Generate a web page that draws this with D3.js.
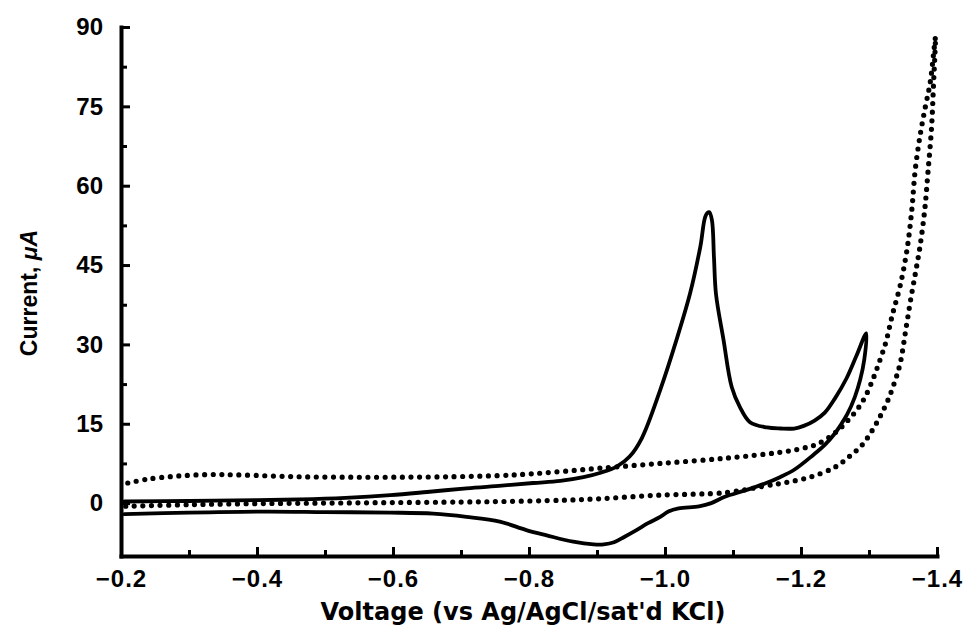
<!DOCTYPE html>
<html>
<head>
<meta charset="utf-8">
<script src="https://cdn.jsdelivr.net/npm/d3@7"></script>
<style>
  html, body { margin: 0; padding: 0; background: #fff; }
  svg { display: block; }
</style>
</head>
<body>
<svg id="chart" width="970" height="640"></svg>
<script>
// ---- Data (voltage in V vs Ag/AgCl, current in µA) ----
const xTicks = [-0.2, -0.4, -0.6, -0.8, -1.0, -1.2, -1.4];
const xMinorTicks = [-0.3, -0.5, -0.7, -0.9, -1.1, -1.3];
const yTicks = [0, 15, 30, 45, 60, 75, 90];
const yMinorTicks = [7.5, 22.5, 37.5, 52.5, 67.5, 82.5];
const xLabel = "Voltage (vs Ag/AgCl/sat'd KCl)";
const yLabelMain = "Current, ";
const yLabelUnit = "\u03bcA";

// Solid CV: forward (cathodic) sweep
const solidForwardV = [-0.205, -0.30, -0.40, -0.463, -0.53, -0.596, -0.65, -0.708, -0.76, -0.806, -0.846, -0.88, -0.904, -0.929, -0.948, -0.966, -0.993, -1.017, -1.037, -1.052, -1.060, -1.065, -1.069, -1.072, -1.075, -1.086, -1.098, -1.110, -1.125, -1.15, -1.17, -1.19, -1.204, -1.22, -1.235, -1.25, -1.267, -1.282, -1.296];
const solidForwardI = [0.3, 0.4, 0.55, 0.7, 1.0, 1.5, 2.1, 2.8, 3.3, 3.8, 4.2, 4.9, 5.7, 6.9, 8.8, 12.3, 21.4, 30.9, 39.7, 48.5, 54.4, 55.0, 53.5, 46.5, 39.5, 30.9, 22.0, 18.2, 15.3, 14.3, 14.1, 14.1, 14.6, 15.6, 17.1, 19.8, 23.6, 28.0, 32.1];
// Solid CV: return (anodic) sweep
const solidReturnV = [-1.296, -1.293, -1.287, -1.279, -1.268, -1.257, -1.25, -1.235, -1.218, -1.19, -1.169, -1.147, -1.118, -1.088, -1.068, -1.05, -1.02, -1.005, -0.993, -0.975, -0.958, -0.94, -0.925, -0.91, -0.895, -0.865, -0.826, -0.796, -0.757, -0.708, -0.659, -0.596, -0.50, -0.414, -0.30, -0.205];
const solidReturnI = [32.1, 27.1, 23.3, 20.0, 16.8, 14.5, 13.2, 11.0, 9.1, 6.3, 4.9, 3.7, 2.4, 1.2, 0.0, -0.6, -1.0, -1.6, -2.6, -3.8, -5.1, -6.4, -7.4, -7.8, -7.8, -7.3, -6.1, -5.1, -3.5, -2.6, -2.0, -1.8, -1.7, -1.6, -1.8, -2.1];

// Dotted CV (background): upper branch
const dotUpperV = [-0.210, -0.238, -0.282, -0.331, -0.379, -0.453, -0.53, -0.61, -0.69, -0.757, -0.80, -0.85, -0.904, -0.993, -1.09, -1.169, -1.20, -1.225, -1.252, -1.268, -1.282, -1.294, -1.306, -1.316, -1.325, -1.334, -1.346, -1.356, -1.363, -1.368, -1.375, -1.383, -1.390, -1.395, -1.398];
const dotUpperI = [3.8, 4.5, 5.1, 5.4, 5.3, 5.0, 4.9, 4.9, 5.0, 5.2, 5.5, 6.0, 6.6, 7.5, 8.5, 9.6, 10.3, 11.2, 13.5, 15.5, 17.6, 20.0, 23.5, 27.0, 30.5, 35.4, 41.2, 48.0, 55.5, 63.0, 69.4, 75.0, 79.5, 85.0, 88.5];
// Dotted CV (background): lower branch
const dotLowerV = [-0.207, -0.30, -0.40, -0.50, -0.60, -0.70, -0.76, -0.85, -0.90, -0.99, -1.09, -1.15, -1.178, -1.213, -1.25, -1.272, -1.29, -1.306, -1.318, -1.328, -1.338, -1.346, -1.355, -1.362, -1.369, -1.375, -1.382, -1.387, -1.392, -1.395, -1.397, -1.398];
const dotLowerI = [-0.6, -0.3, -0.1, 0.0, 0.1, 0.2, 0.3, 0.55, 0.8, 1.5, 2.0, 3.3, 3.9, 4.9, 6.8, 8.9, 11.0, 14.0, 16.8, 19.5, 23.0, 26.5, 33.5, 39.0, 44.0, 48.5, 55.5, 63.0, 71.0, 79.5, 85.0, 88.5];

// ---- Chart ----
const svg = d3.select("#chart");
const x = d3.scaleLinear().domain([-0.2, -1.4]).range([121, 937]);
const y = d3.scaleLinear().domain([-10, 90]).range([556, 27]);

const zip = (vs, is) => vs.map((v, k) => [v, is[k]]);
const line = d3.line()
  .x(d => x(d[0]))
  .y(d => y(d[1]))
  .curve(d3.curveCatmullRom.alpha(0.5));

// Dotted curves
[zip(dotUpperV, dotUpperI), zip(dotLowerV, dotLowerI)].forEach(pts => {
  svg.append("path")
    .attr("d", line(pts))
    .attr("fill", "none")
    .attr("stroke", "#000")
    .attr("stroke-width", 5.2)
    .attr("stroke-linecap", "round")
    .attr("stroke-dasharray", "0 8.6");
});

// Solid curve
const solidPts = zip(solidForwardV, solidForwardI).concat(zip(solidReturnV, solidReturnI).slice(1));
svg.append("path")
  .attr("d", line(solidPts))
  .attr("fill", "none")
  .attr("stroke", "#000")
  .attr("stroke-width", 3.8)
  .attr("stroke-linejoin", "round")
  .attr("stroke-linecap", "round");

// Axes
const fmtX = d => (d < 0 ? "\u2212" : "") + Math.abs(d).toFixed(1);

const xAxis = svg.append("g")
  .attr("transform", `translate(0,${y(-10)})`)
  .call(d3.axisBottom(x).tickValues(xTicks).tickFormat(fmtX).tickSizeInner(-9).tickSizeOuter(0).tickPadding(14));
const xMinor = svg.append("g")
  .attr("transform", `translate(0,${y(-10)})`)
  .call(d3.axisBottom(x).tickValues(xMinorTicks).tickFormat("").tickSizeInner(-6).tickSizeOuter(0));

const yAxis = svg.append("g")
  .attr("transform", `translate(${x(-0.2)},0)`)
  .call(d3.axisLeft(y).tickValues(yTicks).tickFormat(d3.format("d")).tickSizeInner(-9).tickSizeOuter(0).tickPadding(18));
const yMinor = svg.append("g")
  .attr("transform", `translate(${x(-0.2)},0)`)
  .call(d3.axisLeft(y).tickValues(yMinorTicks).tickFormat("").tickSizeInner(-6).tickSizeOuter(0));

[xAxis, xMinor, yAxis, yMinor].forEach(g => {
  g.selectAll(".domain").attr("stroke", "#000").attr("stroke-width", 4).attr("stroke-linecap", "square");
  g.selectAll(".tick line").attr("stroke", "#000").attr("stroke-width", 3);
});
xMinor.select(".domain").remove();
yMinor.select(".domain").remove();

xAxis.selectAll(".tick text")
  .style("font-size", "24px")
  .style("font-family", "'Liberation Sans', Arial, sans-serif")
  .style("font-weight", "bold")
  .style("letter-spacing", "1px")
  .attr("fill", "#000");
yAxis.selectAll(".tick text")
  .style("font-size", "24px")
  .style("font-family", "'Liberation Sans', Arial, sans-serif")
  .style("font-weight", "bold")
  .attr("fill", "#000");

// Axis titles
svg.append("text")
  .attr("x", 523)
  .attr("y", 620)
  .attr("text-anchor", "middle")
  .attr("fill", "#000")
  .style("font-family", "'DejaVu Sans', sans-serif")
  .style("font-weight", "bold")
  .style("font-size", "24px")
  .text(xLabel);

const yt = svg.append("text")
  .attr("transform", `translate(37,293) rotate(-90)`)
  .attr("text-anchor", "middle")
  .attr("fill", "#000")
  .style("font-family", "'Liberation Sans', Arial, sans-serif")
  .style("font-weight", "bold")
  .style("font-size", "23px");
yt.append("tspan").text(yLabelMain);
yt.append("tspan").style("font-style", "italic").text(yLabelUnit);
</script>
</body>
</html>
